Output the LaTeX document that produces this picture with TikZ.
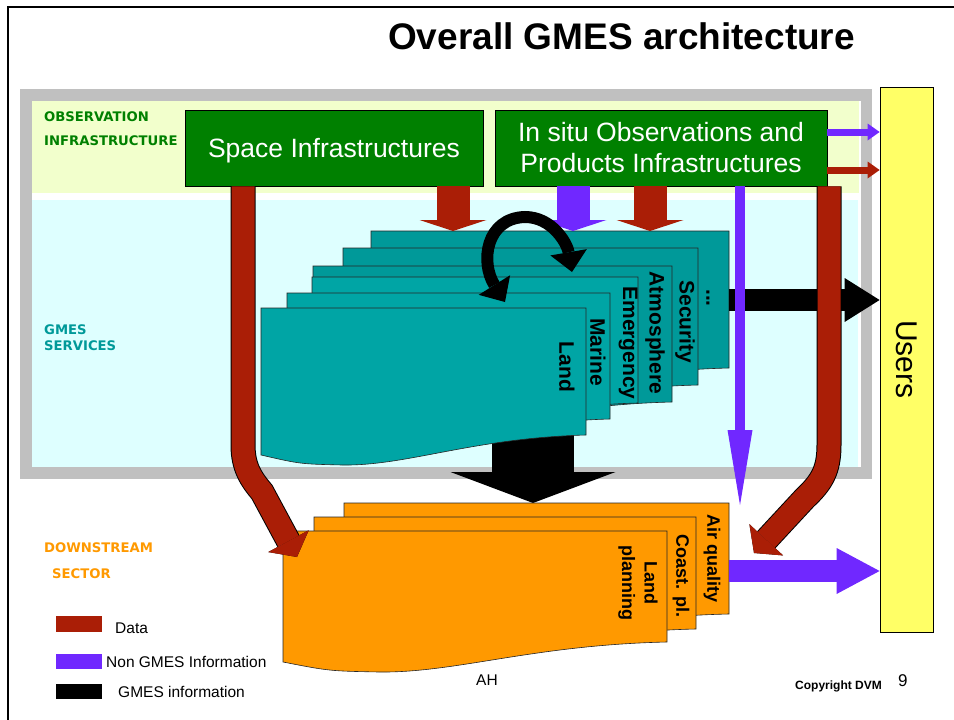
\documentclass[tikz,border=0pt]{standalone}
\usepackage{fontspec}
\setmainfont{Liberation Sans}
\newfontfamily\bandfont{DejaVu Sans}
\usetikzlibrary{arrows.meta, positioning, calc}
\definecolor{ink}{HTML}{000000}
\definecolor{datared}{HTML}{AA1E06}
\definecolor{nongmes}{HTML}{7028FF}
\definecolor{infragreen}{HTML}{008000}
\definecolor{svcdark}{HTML}{009999}
\definecolor{svclight}{HTML}{00A5A5}
\definecolor{dsorange}{HTML}{FF9900}
\definecolor{useryellow}{HTML}{FFFF66}
\definecolor{obsband}{HTML}{F2FFCC}
\definecolor{svcband}{HTML}{DEFFFF}
\definecolor{framegray}{HTML}{C0C0C0}
\tikzset{
  every node/.style={text=ink, inner sep=0pt},
  infra/.style={
    draw=black,
    fill=infragreen,
    text=white,
    line width=0.8pt,
    align=center,
    font=\fontsize{26.5}{31}\selectfont
  },
  userbox/.style={draw=black, fill=useryellow, line width=0.8pt, minimum width=53pt, minimum height=545pt},
  bandlabel/.style={anchor=base west, font=\bandfont\bfseries\fontsize{13.2}{15}\selectfont},
  cardtext/.style={rotate=-90, align=center, font=\bfseries\fontsize{21}{23}\selectfont},
  dstext/.style={cardtext, font=\bfseries\fontsize{18}{22.5}\selectfont},
  svccard/.style={draw=black!85, line width=0.6pt},
  flow/.style={line cap=butt},
  dataflow/.style={flow, draw=datared},
  infoflow/.style={flow, draw=nongmes},
  gmesflow/.style={flow, draw=black},
  pipe/.style={dataflow, line width=23pt, preaction={draw=black, line width=25pt}},
  legendtext/.style={anchor=base west, font=\fontsize{15.5}{17}\selectfont}
}
% one card of a stack: left, top, right, bottom right, colour
\newcommand{\stackcard}[5]{%
  \draw[svccard, fill=#5] (#1,#2) -- (#3,#2) -- (#3,#4)
    .. controls ({#3-0.35*(#3-#1)},{#4+3}) and ({#1+0.45*(#3-#1)},{#4+31}) .. ({#1+0.25*(#3-#1)},{#4+30})
    .. controls ({#1+0.12*(#3-#1)},{#4+29}) .. (#1,{#4+20}) -- cycle;}
\begin{document}
\begin{tikzpicture}[x=1pt, y=-1pt]
  \useasboundingbox (0,0) rectangle (954,720);
  \draw[line width=2pt] (954,7) -- (8,7) -- (8,720);

  % Background bands
  \fill[framegray] (20,89) rectangle (872,479);
  \fill[white] (32,101) rectangle (861,467);
  \fill[obsband] (32,101) rectangle (859,193);
  \fill[svcband] (32,200) rectangle (858,467);

  % Title and band labels
  \node[anchor=base west, font=\bfseries\fontsize{37}{40}\selectfont] (title) at (388,49) {Overall GMES architecture};
  \node[bandlabel, text=infragreen] (obs1) at (44,121) {OBSERVATION};
  \node[bandlabel, text=infragreen] (obs2) at (44,145) {INFRASTRUCTURE};
  \node[bandlabel, text=svcdark] (svc1) at (44,334) {GMES};
  \node[bandlabel, text=svcdark] (svc2) at (44,350) {SERVICES};
  \node[bandlabel, text=dsorange] (ds1) at (44,552) {DOWNSTREAM};
  \node[bandlabel, text=dsorange] (ds2) at (52,578) {SECTOR};

  % Nodes
  \node[infra, minimum width=298pt, minimum height=76pt, text depth=0pt] (space) at (334,148) {Space Infrastructures};
  \node[infra, minimum width=332pt, minimum height=76pt] (insitu) at (661,148) {In situ Observations and\\Products Infrastructures};
  \node[userbox] (users) at (906.5,359.5) {};
  \node[rotate=-90, font=\fontsize{30}{32}\selectfont] (userstext) at (users.center) {Users};

  % GMES information down to the downstream sector
  \draw[gmesflow, line width=82pt, -{Triangle[length=31pt, width=165pt, line width=0pt]}] (533,425) -- (533,503);

  % Service stack
  \stackcard{371}{231}{729}{368}{svcdark}
  \stackcard{343}{248}{698}{385}{svcdark}
  \stackcard{313}{266}{672}{402}{svcdark}
  \stackcard{312}{277}{638}{403}{svclight}
  \stackcard{287}{293}{610}{419}{svclight}
  \stackcard{261}{308}{586}{435}{svclight}
  \node[cardtext] (dots) at (708,298) {...};
  \node[cardtext] (security) at (685,322) {Security};
  \node[cardtext] (atmos) at (655,333) {Atmosphere};
  \node[cardtext] (emerg) at (628,343) {Emergency};
  \node[cardtext] (marine) at (598,352) {Marine};
  \node[cardtext] (land) at (567,367) {Land};

  % Inputs to the services
  \draw[dataflow, line width=33pt, -{Triangle[length=11pt, width=67pt, line width=0pt]}] (space.south -| 453,0) -- (453,231);
  \draw[infoflow, line width=33pt, -{Triangle[length=11pt, width=67pt, line width=0pt]}] (insitu.south -| 573,0) -- (573,231);
  \draw[dataflow, line width=33pt, -{Triangle[length=11pt, width=67pt, line width=0pt]}] (insitu.south -| 650,0) -- (650,231);
  \draw[gmesflow, line width=12pt, {Triangle[length=20pt, width=37pt, line width=0pt]}-{Triangle[length=20pt, width=37pt, line width=0pt]}]
    (505,302) .. controls (480,262) and (486,218) .. (525,217) .. controls (552,217) and (567,243) .. (572,272);

  % GMES information to the users
  \draw[gmesflow, line width=22pt, -{Triangle[length=35pt, width=44pt, line width=0pt]}] (729,300) -- (users.west |- 0,300);

  % Non GMES information and data past the services
  \draw[infoflow, line width=10pt, -{Triangle[length=75pt, width=25pt, line width=0pt]}] (insitu.south -| 740,0) -- (740,505);
  \draw[pipe, -{Triangle[length=18pt, width=46pt, line width=0pt]}]
    (insitu.south -| 829,0) -- (829,445) .. controls (829,470) and (822,482) .. (805,498) -- (754,553);

  % Downstream stack
  \stackcard{344}{503}{729}{614}{dsorange}
  \stackcard{314}{517}{696}{629}{dsorange}
  \stackcard{283}{531}{667}{642}{dsorange}
  \node[dstext] (airq) at (712,559) {Air quality};
  \node[dstext] (coast) at (681,576) {Coast. pl.};
  \node[dstext] (landpl) at (638,583) {Land\\planning};

  \draw[pipe, -{Triangle[length=18pt, width=46pt, line width=0pt]}]
    (space.south -| 243,0) -- (243,445) .. controls (243,467) and (251,479) .. (262,492) -- (297,557);
  \draw[infoflow, line width=22pt, -{Triangle[length=43pt, width=46pt, line width=0pt]}] (729,571) -- (users.west |- 0,571);

  % Direct flows to the users
  \draw[infoflow, line width=7pt, -{Triangle[length=12pt, width=17pt, line width=0pt]}] (insitu.east |- 0,132) -- (users.west |- 0,132);
  \draw[dataflow, line width=7pt, -{Triangle[length=12pt, width=17pt, line width=0pt]}] (insitu.east |- 0,170) -- (users.west |- 0,170);

  % Legend
  \fill[datared] (56,616) rectangle (102,632);
  \fill[nongmes] (56,654) rectangle (102,669);
  \fill[black] (56,684) rectangle (102,699);
  \node[legendtext] (legdata) at (115,633) {Data};
  \node[legendtext] (legnon) at (106,667.5) {Non GMES Information};
  \node[legendtext] (leggmes) at (118,697.5) {GMES information};

  % Footer
  \node[anchor=base, font=\fontsize{15.5}{17}\selectfont] (ah) at (487,685.5) {AH};
  \node[anchor=base west, font=\bfseries\fontsize{12}{14}\selectfont] (copy) at (795,689) {Copyright DVM};
  \node[anchor=base west, font=\fontsize{17}{19}\selectfont] (page) at (898,686) {9};
\end{tikzpicture}
\end{document}
